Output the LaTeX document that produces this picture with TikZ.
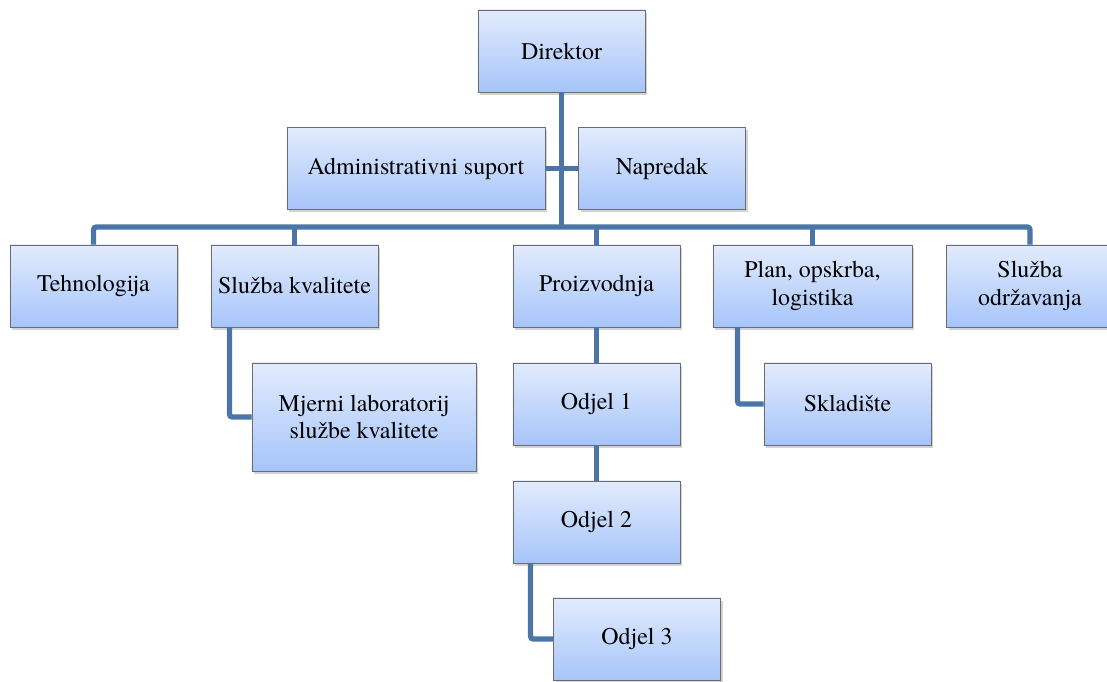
\documentclass[tikz,border=0pt]{standalone}
\usepackage{fontspec}
\newfontfamily\orgfont{TeX Gyre Termes}
\usetikzlibrary{shadows,calc}

\definecolor{boxtop}{RGB}{226,235,253}
\definecolor{boxbot}{RGB}{166,197,250}
\definecolor{linkc}{RGB}{74,117,166}

\begin{document}
\begin{tikzpicture}[x=0.025cm,y=-0.025cm,
    box/.style={draw=gray!85!black, line width=0.6pt, top color=boxtop, bottom color=boxbot,
      minimum width=4.175cm, minimum height=2.05cm, inner sep=2pt, align=center,
      font=\orgfont\fontsize{17}{19.5}\selectfont,
      drop shadow={shadow xshift=1.5pt,shadow yshift=-2pt,opacity=0.35}},
    link/.style={draw=linkc, line width=3.8pt, rounded corners=2pt}]
			\useasboundingbox (0,0) rectangle (1107,682);
			% boxes
			\node[box] (dir) at (561.5,51) {Direktor};
			\node[box, minimum width=6.45cm] (adm) at (416,168.5) {Administrativni suport};
			\node[box] (nap) at (662,168.5) {Napredak};
			\node[box] (teh) at (93.5,286) {Tehnologija};
			\node[box] (kval) at (294.5,286) {Služba kvalitete};
			\node[box] (proiz) at (596.5,286) {Proizvodnja};
			\node[box, minimum width=4.975cm] (plan) at (812.5,286) {Plan, opskrba,\\ logistika};
			\node[box] (odr) at (1030,286) {Služba\\ održavanja};
			\node[box, minimum width=5.6cm, minimum height=2.7cm] (mjer) at (364,417) {Mjerni laboratorij\\ službe kvalitete};
			\node[box] (od1) at (596.5,404) {Odjel 1};
			\node[box] (od2) at (596.5,522) {Odjel 2};
			\node[box] (od3) at (637,639) {Odjel 3};
			\node[box] (skl) at (847.5,404) {Skladište};
			% connectors
			\coordinate (bus) at (561.5,227);
			\draw[link] (dir.south) -- (bus);
			\draw[link] (adm.east) -- (adm.east -| bus);
			\draw[link] (nap.west) -- (nap.west -| bus);
			\draw[link] (teh.north) -- (teh.north |- bus) -- (odr.north |- bus) -- (odr.north);
			\foreach \n in {kval,proiz,plan}
				\draw[link] (\n.north) -- (\n.north |- bus);
			\draw[link] ($(kval.south)+(-65,0)$) |- (mjer.west);
			\draw[link] (proiz.south) -- (od1.north);
			\draw[link] (od1.south) -- (od2.north);
			\draw[link] ($(od2.south)+(-66,0)$) |- (od3.west);
			\draw[link] ($(plan.south)+(-75,0)$) |- (skl.west);
\end{tikzpicture}
\end{document}
